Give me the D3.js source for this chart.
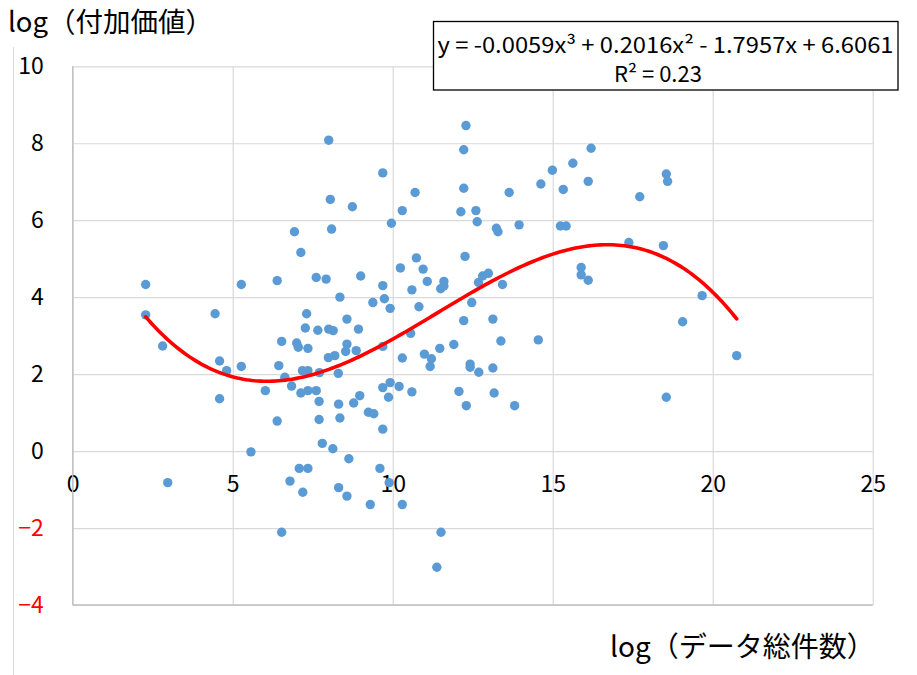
<!DOCTYPE html>
<html><head><meta charset="utf-8">
<script src="https://cdn.jsdelivr.net/npm/d3@7"></script>
<style>
html,body{margin:0;padding:0;background:#fff;}
svg{display:block;}
text{font-family:"Noto Sans CJK JP","Noto Sans",sans-serif;}
</style></head>
<body>
<svg id="chart" width="917" height="675"></svg>
<script>
// ---- data ----
const xValues = [
2.28,2.28,2.81,2.97,4.45,4.59,4.81,4.59,5.27,5.27,5.57,6.02,6.39,6.39,6.53,6.53,6.44,6.63,6.79,6.84,
6.93,7.00,7.05,7.08,7.13,7.13,7.18,7.19,7.27,7.31,7.35,7.35,7.35,7.35,7.61,7.61,7.66,7.71,7.70,7.70,
7.80,7.92,7.99,8.00,8.00,8.05,8.09,8.14,8.13,8.19,8.30,8.31,8.31,8.35,8.35,8.53,8.57,8.57,8.57,8.63,
8.74,8.78,8.86,8.93,8.97,9.00,9.24,9.30,9.38,9.41,9.60,9.69,9.69,9.69,9.69,9.69,9.74,9.87,9.89,9.92,
9.92,9.96,10.20,10.24,10.30,10.30,10.30,10.56,10.60,10.60,10.70,10.74,10.82,10.95,10.99,11.08,11.21,11.17,11.38,11.47,
11.50,11.51,11.60,11.60,11.91,12.07,12.13,12.22,12.22,12.22,12.26,12.29,12.30,12.42,12.42,12.47,12.60,12.64,12.68,12.69,
12.81,12.99,13.13,13.13,13.17,13.24,13.29,13.38,13.43,13.64,13.81,13.95,14.55,14.63,14.99,15.24,15.33,15.42,15.63,15.89,
15.89,16.11,16.11,16.20,17.38,17.72,18.46,18.55,18.59,18.55,19.06,19.67,20.75
];
const yValues = [
4.33,3.54,2.73,-0.82,3.57,2.34,2.09,1.36,4.33,2.20,-0.02,1.57,4.43,0.78,2.85,-2.11,2.22,1.92,-0.78,1.69,
5.70,2.81,2.70,-0.45,5.16,1.51,2.09,-1.07,3.20,3.57,2.67,2.09,1.57,-0.45,4.51,1.57,3.14,2.04,1.29,0.82,
0.20,4.47,2.43,8.08,3.17,6.54,5.77,3.13,0.06,2.48,2.02,1.22,-0.95,4.00,0.86,2.59,2.78,3.43,-1.17,-0.20,
6.35,1.25,2.61,3.17,1.44,4.55,1.01,-1.39,3.86,0.97,-0.45,7.23,4.30,2.72,1.65,0.57,3.96,1.40,-0.82,3.71,
1.78,5.92,1.68,4.76,6.25,2.42,-1.39,3.06,4.19,1.54,6.72,5.02,3.75,4.73,2.52,4.41,2.40,2.20,-3.02,2.67,
4.22,-2.11,4.41,4.29,2.77,1.55,6.22,7.83,6.83,3.39,5.06,8.46,1.18,2.26,2.18,3.86,6.25,5.96,4.38,2.05,
4.55,4.62,3.43,2.16,1.51,5.79,5.70,2.86,4.33,6.72,1.18,5.88,2.89,6.94,7.30,5.85,6.80,5.85,7.48,4.77,
4.58,7.01,4.44,7.87,5.42,6.61,5.34,7.20,7.01,1.40,3.36,4.04,2.48
];
// trendline coefficients as printed on the chart: y = a3 x^3 + a2 x^2 + a1 x + a0
const trendCoefs = [6.6061, -1.7957, 0.2016, -0.0059];
const xTicks = [0,5,10,15,20,25];
const yTicks = [-4,-2,0,2,4,6,8,10];
const yTitle = "log（付加価値）";
const xTitle = "log（データ総件数）";
const eqLine1 = "y = -0.0059x³ + 0.2016x² - 1.7957x + 6.6061";
const eqLine2 = "R² = 0.23";

// ---- layout ----
const svg = d3.select("#chart");
const pLeft = 72.7, pRight = 872.7, pTop = 66.3, pBottom = 605;
const x = d3.scaleLinear().domain([0,25]).range([pLeft,pRight]);
const y = d3.scaleLinear().domain([-4,10]).range([pBottom,pTop]);
const FONT = '"Noto Sans CJK JP","Noto Sans",sans-serif';

// chart-area left border (faint)
svg.append("line").attr("x1",13.5).attr("x2",13.5).attr("y1",47).attr("y2",675)
  .attr("stroke","#D9D9D9").attr("stroke-width",1);

// horizontal gridlines + y labels
const yAxis = svg.append("g").attr("transform",`translate(${pLeft},0)`)
  .call(d3.axisLeft(y).tickValues(yTicks).tickSize(-(pRight-pLeft)).tickPadding(29).tickFormat(d3.format("d")));
yAxis.select(".domain").remove();
yAxis.selectAll(".tick line").attr("stroke","#D9D9D9").attr("stroke-width",1.2);
yAxis.selectAll(".tick text").attr("font-size",23).attr("font-family",FONT)
  .attr("fill",d=>d<0?"#FF0000":"#000");

// vertical gridlines
const xGrid = svg.append("g").attr("transform",`translate(0,${pBottom})`)
  .call(d3.axisBottom(x).tickValues(xTicks).tickSize(-(pBottom-pTop)).tickFormat(""));
xGrid.select(".domain").remove();
xGrid.selectAll(".tick line").attr("stroke","#D9D9D9").attr("stroke-width",1.2);

// x labels at y=0 level
const xLab = svg.append("g").attr("transform",`translate(0,${y(0)})`)
  .call(d3.axisBottom(x).tickValues(xTicks).tickSize(0).tickPadding(25).tickFormat(d3.format("d")));
xLab.select(".domain").remove();
xLab.selectAll(".tick text").attr("font-size",23).attr("font-family",FONT).attr("fill","#000");

// plot borders (left axis and bottom)
svg.append("line").attr("x1",pLeft).attr("x2",pLeft).attr("y1",pTop).attr("y2",pBottom).attr("stroke","#BFBFBF").attr("stroke-width",1.3);
svg.append("line").attr("x1",pLeft).attr("x2",pRight).attr("y1",pBottom).attr("y2",pBottom).attr("stroke","#BFBFBF").attr("stroke-width",1.3);

// points
const pts = xValues.map((v,i)=>({x:v,y:yValues[i]}));
svg.append("g").selectAll("circle").data(pts).join("circle")
  .attr("cx",d=>x(d.x)).attr("cy",d=>y(d.y)).attr("r",4.7).attr("fill","#5B9BD5");

// trendline
const poly = t => trendCoefs.reduce((s,c,k)=>s+c*Math.pow(t,k),0);
const xmin = d3.min(xValues), xmax = d3.max(xValues);
const curve = d3.range(0,201).map(i=>{const t = xmin+(xmax-xmin)*i/200; return [t, poly(t)];});
svg.append("path").datum(curve)
  .attr("d",d3.line().x(d=>x(d[0])).y(d=>y(d[1])))
  .attr("fill","none").attr("stroke","#FF0000").attr("stroke-width",3.6).attr("stroke-linecap","round");

// equation box
svg.append("rect").attr("x",433.5).attr("y",21.5).attr("width",464.5).attr("height",68.5)
  .attr("fill","#fff").attr("stroke","#000").attr("stroke-width",1.3);
svg.append("text").attr("x",665.5).attr("y",52.5).attr("text-anchor","middle")
  .attr("font-family",'"Noto Sans",sans-serif').attr("font-size",22)
  .attr("textLength",456).attr("lengthAdjust","spacingAndGlyphs")
  .attr("fill","#000").text(eqLine1);
svg.append("text").attr("x",658).attr("y",82).attr("text-anchor","middle")
  .attr("font-family",'"Noto Sans",sans-serif').attr("font-size",22)
  .attr("fill","#000").text(eqLine2);

// titles
svg.append("text").attr("x",8).attr("y",32).attr("font-size",27.5).attr("fill","#000").text(yTitle);
svg.append("text").attr("x",610).attr("y",657).attr("font-size",28).attr("fill","#000").text(xTitle);
</script>
</body></html>
